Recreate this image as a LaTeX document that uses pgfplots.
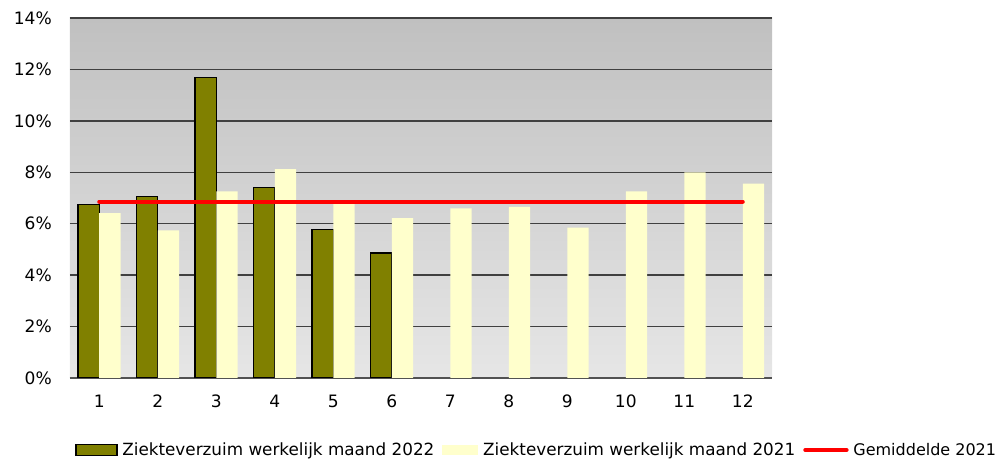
\documentclass[border=0pt]{standalone}
\usepackage{fontspec}
\setmainfont{DejaVu Sans}
\usepackage{pgfplots}
\pgfplotsset{compat=1.18}
\definecolor{olivebar}{HTML}{808000}
\definecolor{yellowbar}{HTML}{FFFFCC}
\definecolor{gridc}{HTML}{404040}
\definecolor{bgtop}{HTML}{C0C0C0}
\definecolor{bgbot}{HTML}{E6E6E6}
\begin{document}
\begin{tikzpicture}
\path[use as bounding box] (-52.5pt,-60.75pt) rectangle (699pt,283.5pt);
\begin{axis}[
  scale only axis,
  width=526.5pt, height=270pt,
  xmin=0.5, xmax=12.5, ymin=0, ymax=14,
  ybar=0pt, bar width=16pt,
  axis background/.style={shade, top color=bgtop, bottom color=bgbot},
  axis x line*=bottom, axis y line*=left,
  x axis line style={-, draw=black!68, line width=1.4pt},
  y axis line style={draw=none},
  major tick length=0pt,
  xtick={1,...,12},
  ytick={0,2,...,14},
  yticklabels={0\%,2\%,4\%,6\%,8\%,10\%,12\%,14\%},
  ymajorgrids, major grid style={draw=gridc, line width=1pt},
  /pgf/number format/assume math mode=true,
  tick label style={font=\fontsize{12.8}{15}\selectfont, inner sep=0pt},
  yticklabel style={anchor=east, xshift=-13.5pt},
  xticklabel style={anchor=north, yshift=-12.75pt},
  legend style={at={(0,0)}, anchor=west, xshift=3.8pt, yshift=-54pt,
    draw=none, fill=none, inner sep=0pt,
    font=\fontsize{12.6}{15}\selectfont,
    nodes={inner xsep=0pt},
    /tikz/every odd column/.append style={column sep=3.6pt},
    /tikz/every even column/.append style={column sep=6pt}},
  legend columns=3,
  legend cell align=left,
]
\addplot[fill=olivebar, draw=black, line width=0.9pt,
  legend image code/.code={\draw[fill=olivebar, draw=black, line width=0.9pt] (0pt,-4pt) rectangle (30.75pt,4pt);}]
  coordinates {(1,6.76) (2,7.05) (3,11.68) (4,7.42) (5,5.78) (6,4.86)};
\addlegendentry{Ziekteverzuim werkelijk maand 2022}
\addplot[fill=yellowbar, draw=none,
  legend image code/.code={\fill[yellowbar] (0pt,-4pt) rectangle (27pt,4pt);}]
  coordinates {(1,6.41) (2,5.74) (3,7.26) (4,8.12) (5,6.80) (6,6.22) (7,6.60) (8,6.65) (9,5.85) (10,7.26) (11,8.00) (12,7.56)};
\addlegendentry{Ziekteverzuim werkelijk maand 2021}
\addplot[sharp plot, draw=red, line width=3pt, line cap=round, bar shift=0pt,
  legend image code/.code={\draw[red, line width=3pt] (0pt,0pt) -- (31pt,0pt);}]
  coordinates {(1,6.86) (12,6.86)};
\addlegendentry{\fontsize{12}{15}\selectfont Gemiddelde 2021}
\end{axis}
\end{tikzpicture}
\end{document}
